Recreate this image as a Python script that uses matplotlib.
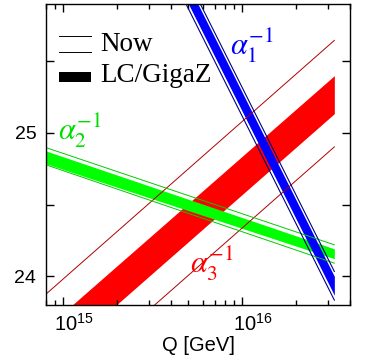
import matplotlib.pyplot as plt
import matplotlib.transforms as mtransforms
import numpy as np

# band end points, Q in GeV
q_ends = [8.0e14, 3.27e16]
q_blue = [4.42e15, 3.27e16]

# alpha_3^-1 : red
a3_now_hi = [23.876, 25.646]
a3_now_lo = [23.133, 24.903]
a3_lc_hi = [23.64, 25.40]
a3_lc_lo = [23.37, 25.135]

# alpha_2^-1 : green
a2_now_hi = [24.898, 24.22]
a2_now_lo = [24.778, 24.092]
a2_lc_hi = [24.875, 24.192]
a2_lc_lo = [24.785, 24.123]

# alpha_1^-1 : blue
a1_now_hi = [26.20, 24.034]
a1_now_lo = [26.00, 23.834]
a1_lc_hi = [26.166, 24.0]
a1_lc_lo = [26.034, 23.868]

plt.rcParams['mathtext.fontset'] = 'custom'
plt.rcParams['mathtext.rm'] = 'Liberation Sans'
plt.rcParams['mathtext.it'] = 'Liberation Sans:italic'

fig = plt.figure(figsize=(3.69, 3.6), dpi=100)
ax = fig.add_axes([46/369, 55/360, 304/369, 301/360])
ax.set_xscale('log')

# red
ax.fill_between(q_ends, a3_lc_lo, a3_lc_hi, color='#ff0000', lw=0)
ax.plot(q_ends, a3_now_hi, color='#b00000', lw=0.7)
ax.plot(q_ends, a3_now_lo, color='#b00000', lw=0.7)
# green
ax.fill_between(q_ends, a2_lc_lo, a2_lc_hi, color='#00ff00', lw=0)
ax.plot(q_ends, a2_now_hi, color='#00cc00', lw=0.7)
ax.plot(q_ends, a2_now_lo, color='#00cc00', lw=0.7)
# blue
ax.fill_between(q_blue, a1_lc_lo, a1_lc_hi, color='#0000ff', lw=0)
ax.plot(q_blue, a1_now_hi, color='#000080', lw=0.8)
ax.plot(q_blue, a1_now_lo, color='#000080', lw=0.8)

ax.set_xlim(8.0e14, 4.0e16)
ax.set_ylim(23.8, 25.9)

ax.set_yticks([24, 24.5, 25, 25.5])
ax.set_yticklabels(['24', '', '25', ''], fontsize=14, family='Liberation Sans')
ax.set_xticks([1e15, 1e16])
ax.set_xticklabels(['', ''])
ax.xaxis.set_minor_locator(plt.matplotlib.ticker.LogLocator(base=10, subs=np.arange(2, 10)))
ax.xaxis.set_minor_formatter(plt.NullFormatter())
ax.tick_params(which='both', direction='in', top=True, right=True, width=1.0)
ax.tick_params(which='major', length=5.8, pad=7)
ax.tick_params(which='minor', length=3.6)
for s in ax.spines.values():
    s.set_linewidth(1.0)

# x tick labels, shifted right like the original
lab_tr = mtransforms.offset_copy(ax.get_xaxis_transform(), fig=fig, x=-9, y=-8, units='dots')
for q, t in zip([1e15, 1e16], [r'$10^{15}$', r'$10^{16}$']):
    ax.text(q, 0, t, transform=lab_tr, ha='left', va='top', fontsize=14.5)

ax.set_xlabel('Q [GeV]', fontsize=14.5, family='Liberation Sans', labelpad=15)

# legend
ax.plot([0.043, 0.148], [0.894, 0.894], color='black', lw=0.7, transform=ax.transAxes)
ax.plot([0.043, 0.148], [0.841, 0.841], color='black', lw=0.7, transform=ax.transAxes)
ax.text(0.178, 0.867, 'Now', transform=ax.transAxes, va='center', fontsize=19.5, family='Liberation Serif')
ax.plot([0.043, 0.148], [0.757, 0.757], color='black', lw=7.2, solid_capstyle='butt', transform=ax.transAxes)
ax.text(0.178, 0.762, 'LC/GigaZ', transform=ax.transAxes, va='center', fontsize=19.5, family='Liberation Serif')

# labels
ax.text(0.605, 0.860, r'$\alpha_1^{-1}$', transform=ax.transAxes, va='center', color='#0000ff',
        fontsize=22, math_fontfamily='stix')
ax.text(0.04, 0.578, r'$\alpha_2^{-1}$', transform=ax.transAxes, va='center', color='#00e000',
        fontsize=22, math_fontfamily='stix')
ax.text(0.474, 0.136, r'$\alpha_3^{-1}$', transform=ax.transAxes, va='center', color='#ff0000',
        fontsize=22, math_fontfamily='stix')

plt.savefig('out.png', dpi=100)
